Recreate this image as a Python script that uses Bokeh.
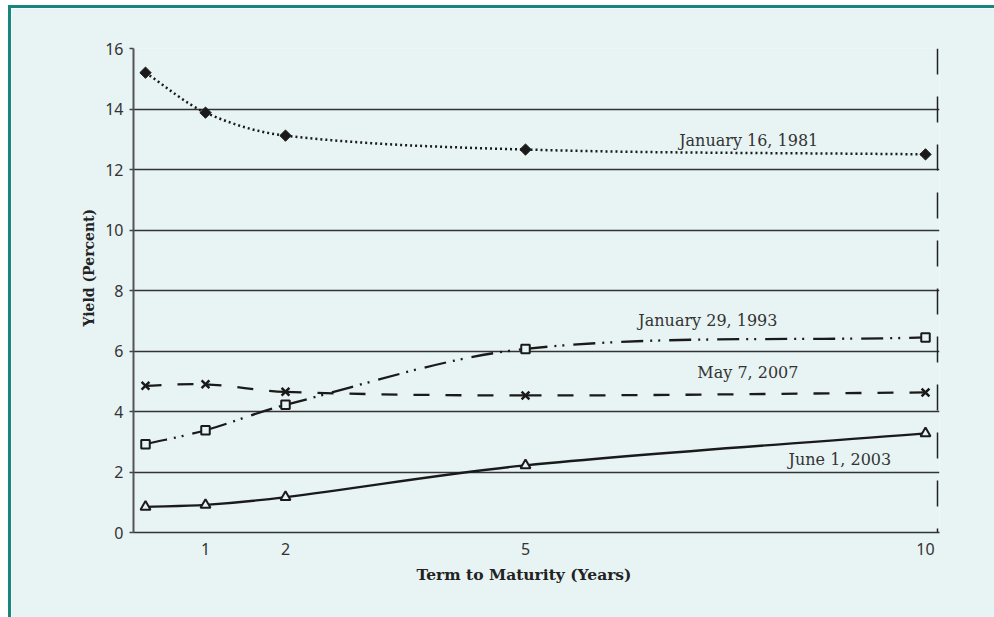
import numpy as np
from bokeh.plotting import figure
from bokeh.models import Range1d, FixedTicker, Title
from bokeh.embed import file_html
from bokeh.resources import INLINE
from bokeh.core.properties import value

# ---- data ----
maturity = [0.25, 1, 2, 5, 10]          # years
y1981 = [15.2, 13.88, 13.12, 12.66, 12.5]
y1993 = [2.92, 3.38, 4.22, 6.07, 6.45]
y2007 = [4.85, 4.9, 4.65, 4.53, 4.63]
y2003 = [0.85, 0.91, 1.17, 2.22, 3.28]
series_names = ["January 16, 1981", "January 29, 1993", "May 7, 2007", "June 1, 2003"]
x_ticks = [1, 2, 5, 10]
y_ticks = [0, 2, 4, 6, 8, 10, 12, 14, 16]

# label anchor positions (data coords)
label_x = [7.79, 7.28, 7.78, 8.93]
label_y = [12.96, 7.01, 5.29, 2.41]

BG = "#e8f4f4"
TEAL = "#16877f"
INK = "#1a1a1a"

W, H = 986, 612
p = figure(width=W, height=H, output_backend="svg", toolbar_location=None,
           x_range=Range1d(0.1, 10.175), y_range=Range1d(0, 16),
           min_border_left=122, min_border_right=58, min_border_top=40, min_border_bottom=88,
           background_fill_color=BG, border_fill_color=BG, outline_line_color=None)
p.styles = {"border-top": f"3px solid {TEAL}", "border-left": f"3px solid {TEAL}",
            "margin-top": "5px", "margin-left": "8px"}

# axes
p.xaxis.ticker = FixedTicker(ticks=x_ticks)
p.yaxis.ticker = FixedTicker(ticks=y_ticks)
for ax in (p.xaxis[0], p.yaxis[0]):
    ax.major_label_text_font = "Noto Sans"
    ax.major_label_text_font_size = "16px"
    ax.major_label_text_color = "#333333"
    ax.minor_tick_line_color = None
p.xaxis.major_tick_line_color = None
p.xaxis.major_label_standoff = 4
p.xaxis.axis_line_color = "#333333"
p.xaxis.axis_line_width = 1.5
p.yaxis.axis_line_color = "#555555"
p.yaxis.axis_line_width = 2
p.yaxis.major_tick_in = 0
p.yaxis.major_tick_out = 4
p.yaxis.major_tick_line_color = "#444444"
p.yaxis.major_tick_line_width = 1.5
p.yaxis.major_label_standoff = 6

p.xgrid.grid_line_color = None
p.ygrid.grid_line_color = "#333333"
p.ygrid.grid_line_width = 1.5

# right dashed border line
p.segment(x0=[10.15], y0=[16], x1=[10.15], y1=[0], line_color="#222222",
          line_width=1.5, line_dash="26 22")


def bezier_parts(xs, ys):
    """Smooth curve through the points: cubic Hermite segments as Bezier curves."""
    x = np.asarray(xs, float)
    y = np.asarray(ys, float)
    n = len(x)
    m = np.empty(n)
    m[0] = (y[1] - y[0]) / (x[1] - x[0])
    m[-1] = (y[-1] - y[-2]) / (x[-1] - x[-2])
    for i in range(1, n - 1):
        m[i] = (y[i + 1] - y[i - 1]) / (x[i + 1] - x[i - 1])
    h = np.diff(x)
    return dict(x0=x[:-1], y0=y[:-1], x1=x[1:], y1=y[1:],
                cx0=x[:-1] + h / 3, cy0=y[:-1] + m[:-1] * h / 3,
                cx1=x[1:] - h / 3, cy1=y[1:] - m[1:] * h / 3)


styles = [
    (y1981, "2 3", 2.5),
    (y1993, "22 7 2 6 2 9", 2.3),
    (y2007, "16 16", 2.3),
    (y2003, "solid", 2.3),
]
for ys, dash, lw in styles:
    b = bezier_parts(maturity, ys)
    p.bezier(line_color=INK, line_width=lw, line_dash=dash, **b)

# markers
p.scatter(maturity, y1981, marker="square", angle=np.pi / 4, size=8,
          fill_color=INK, line_color=INK)
p.scatter(maturity, y1993, marker="square", size=8.5, fill_color=BG,
          line_color=INK, line_width=2)
p.scatter(maturity, y2007, marker="x", size=11, line_color=INK, line_width=2.5)
p.scatter(maturity, y2003, marker="triangle", size=10, fill_color=BG,
          line_color=INK, line_width=2)

# series labels
p.text(x=label_x, y=label_y, text=series_names, text_font=value("DejaVu Serif"),
       text_font_size="16px", text_color="#333333", text_align="center",
       text_baseline="middle")

# axis titles
p.add_layout(Title(text="Term to Maturity (Years)", text_font="DejaVu Serif",
                   text_font_style="bold", text_font_size="15.5px", text_color="#222222",
                   align="left", offset=283, standoff=11), "below")
p.add_layout(Title(text="Yield (Percent)", text_font="DejaVu Serif",
                   text_font_style="bold", text_font_size="14px", text_color="#222222",
                   align="left", offset=206, standoff=12), "left")

open("out.html", "w").write(file_html(p, INLINE))
